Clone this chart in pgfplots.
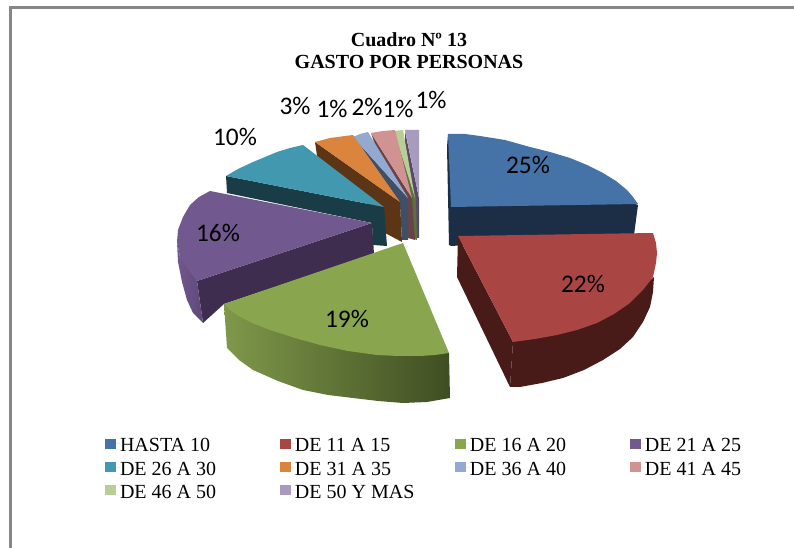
\documentclass[border=0pt]{standalone}
\usepackage{fontspec}
\setmainfont{Liberation Serif}
\newfontfamily\calib{Carlito}
\usepackage{pgfplots}
\pgfplotsset{compat=1.18}
\definecolor{c1}{HTML}{4572A7}\definecolor{s1}{HTML}{1B2E46}
\definecolor{c2}{HTML}{A94543}\definecolor{s2}{HTML}{481B19}
\definecolor{c3}{HTML}{89A54E}\definecolor{s3}{HTML}{3F4E22}\definecolor{s3l}{HTML}{7F984A}
\definecolor{c4}{HTML}{71588F}\definecolor{s4}{HTML}{3E2D4E}\definecolor{s4o}{HTML}{5E4878}
\definecolor{c5}{HTML}{4198AF}\definecolor{s5}{HTML}{193C47}
\definecolor{c6}{HTML}{DB843D}\definecolor{s6}{HTML}{5B3516}
\definecolor{c7}{HTML}{93A9CF}\definecolor{s7}{HTML}{3E4F68}
\definecolor{c8}{HTML}{D19392}\definecolor{s8}{HTML}{6A4445}
\definecolor{c9}{HTML}{B9CD96}\definecolor{s9}{HTML}{5A7040}
\definecolor{c10}{HTML}{A99BBD}\definecolor{s10}{HTML}{564A68}
\newcommand\LE[1]{\makebox[120pt][l]{\rule[-4.2pt]{0pt}{17.6pt}#1}}
\newcommand\LF[1]{\makebox[90pt][l]{\rule[-4.2pt]{0pt}{17.6pt}#1}}
\begin{document}
\begin{tikzpicture}
\begin{axis}[
  scale only axis, width=595.5pt, height=411pt,
  xmin=0, xmax=794, ymin=0, ymax=548, y dir=reverse,
  hide axis, clip=true,
  legend columns=4,
  legend cell align=left,
  legend style={draw=none, fill=none, at={(axis cs:105,434)}, anchor=north west,
    inner sep=0pt, outer sep=0pt,
    font=\fontsize{15}{15}\selectfont,
    nodes={inner sep=0pt, outer sep=0pt},
    /tikz/column sep=0pt, /tikz/row sep=2.6pt},
  legend image code/.code={\path[#1] (0pt,-3.6pt) rectangle (8.2pt,4pt); \path (0pt,0pt) -- (11.25pt,0pt);},
]
% full extent of the picture
\addplot[forget plot, draw=none] coordinates {(0,0)(794,548)};
% frame
\addplot[forget plot, draw=black!47, line width=2.2pt] coordinates {(794,7.5)(10.5,7.5)(10.5,548)};

% DE 50 Y MAS
\addplot[forget plot, fill=s10, draw=none] coordinates {(405,131)(405,143)(414,200)(415,238)(419,238)(419,198)} -- cycle;
\addplot[forget plot, fill=c10, draw=none] coordinates {(405,130)(419,130)(419,198)} -- cycle;
% DE 46 A 50
\addplot[forget plot, fill=s9, draw=none] coordinates {(394,131)(394,143)(410,198)(411,238)(417,240)(416,198)} -- cycle;
\addplot[forget plot, fill=c9, draw=none] coordinates {(394,131)(403,130)(415,198)} -- cycle;
% DE 41 A 45
\addplot[forget plot, fill=s8, draw=none] coordinates {(371,133)(375,145)(408,198)(408,238)(415,240)(412,198)} -- cycle;
\addplot[forget plot, fill=c8, draw=none] coordinates {(371,133)(383,131)(395,130)(412,198)} -- cycle;
% DE 36 A 40
\addplot[forget plot, fill=s7, draw=none] coordinates {(353,137)(357,146)(400,205)(402,240)(408,240)(408,198)} -- cycle;
\addplot[forget plot, fill=c7, draw=none] coordinates {(353,137)(360,134)(368,132)(408,198)} -- cycle;
% DE 31 A 35
\addplot[forget plot, fill=s6, draw=none] coordinates {(315,142)(317,156)(384,220)(385,233)(402,242)(400,202)} -- cycle;
\addplot[forget plot, fill=c6, draw=none] coordinates {(315,142)(330,138)(345,136)(353,135)(400,202)} -- cycle;
% DE 26 A 30
\addplot[forget plot, fill=s5, draw=none] coordinates {(226,176)(227,193)(372,223)(373,245)(387,246)(384,207)} -- cycle;
\addplot[forget plot, fill=c5, draw=none] coordinates {(226,176)(238,169)(253,162)(265,157)(277,152)(290,148)(303,145)(384,207)} -- cycle;
% DE 21 A 25
\addplot[forget plot, fill=s4, draw=none] coordinates {(197,281)(372,223)(374,254)(224,304)(203,323)} -- cycle;
\addplot[forget plot, shade, left color=c4, right color=s4o, draw=none] coordinates {(177,242)(178,262)(182,282)(187,300)(193,313)(203,323)(197,281)(186,264)(180,257)} -- cycle;
\addplot[forget plot, fill=c4, draw=none] coordinates {(210,191)(199,197)(190,205)(183,217)(178,230)(177,242)(180,257)(187,268)(197,281)(372,223)} -- cycle;
% HASTA 10
\addplot[forget plot, fill=s1, draw=none] coordinates {(448,134)(447,147)(449,245)(451,246)(634,235)(638,205)} -- cycle;
\addplot[forget plot, fill=c1, draw=none] coordinates {(448,134)(465,134)(480,136)(505,140)(530,147)(550,152)(570,158)(587,165)(603,173)(616,181)(627,190)(633,197)(638,204)(451,207)} -- cycle;
% DE 16 A 20
\addplot[forget plot, shade, left color=s3l, right color=s3, draw=none] coordinates {(224,304)(227,348)(239,360)(253,370)(278,381)(303,390)(328,395)(353,398)(378,401)(403,403)(427,402)(450,398)(449,353)} -- cycle;
\addplot[forget plot, fill=c3, draw=none] coordinates {(403,243)(449,353)(435,355)(420,356)(398,356)(377,355)(348,351)(320,345)(295,338)(270,330)(252,323)(237,315)(229,309)(224,304)} -- cycle;
% DE 11 A 15
\addplot[forget plot, fill=s2, draw=none] coordinates {(458,236)(457,277)(510,387)(513,342)} -- cycle;
\addplot[forget plot, fill=s2, draw=none] coordinates {(513,342)(510,387)(520,387)(542,383)(563,378)(584,370)(603,360)(620,349)(633,337)(643,322)(650,307)(653,292)(654,277)(645,285)} -- cycle;
\addplot[forget plot, fill=c2, draw=none] coordinates {(458,236)(653,233)(656,243)(657,253)(656,263)(653,277)(643,290)(630,303)(614,314)(597,323)(577,330)(557,335)(535,339)(513,342)} -- cycle;

% labels
\node[font=\bfseries\fontsize{15}{16.5}\selectfont, align=center] at (axis cs:409,51) {Cuadro Nº 13\\GASTO POR PERSONAS};
\node[font=\calib\fontsize{19}{20}\selectfont] at (axis cs:528,165) {25\%};
\node[font=\calib\fontsize{19}{20}\selectfont] at (axis cs:583,284) {22\%};
\node[font=\calib\fontsize{19}{20}\selectfont] at (axis cs:347,319) {19\%};
\node[font=\calib\fontsize{19}{20}\selectfont] at (axis cs:218,233) {16\%};
\node[font=\calib\fontsize{19}{20}\selectfont] at (axis cs:235,137) {10\%};
\node[font=\calib\fontsize{19}{20}\selectfont] at (axis cs:295,106) {3\%};
\node[font=\calib\fontsize{19}{20}\selectfont] at (axis cs:332,109) {1\%};
\node[font=\calib\fontsize{19}{20}\selectfont] at (axis cs:367,107) {2\%};
\node[font=\calib\fontsize{19}{20}\selectfont] at (axis cs:398,109) {1\%};
\node[font=\calib\fontsize{19}{20}\selectfont] at (axis cs:431,100) {1\%};

% legend
\addlegendimage{fill=c1,draw=none}\addlegendentry{\LE{HASTA 10}}
\addlegendimage{fill=c2,draw=none}\addlegendentry{\LE{DE 11 A 15}}
\addlegendimage{fill=c3,draw=none}\addlegendentry{\LE{DE 16 A 20}}
\addlegendimage{fill=c4,draw=none}\addlegendentry{\LF{DE 21 A 25}}
\addlegendimage{fill=c5,draw=none}\addlegendentry{\LE{DE 26 A 30}}
\addlegendimage{fill=c6,draw=none}\addlegendentry{\LE{DE 31 A 35}}
\addlegendimage{fill=c7,draw=none}\addlegendentry{\LE{DE 36 A 40}}
\addlegendimage{fill=c8,draw=none}\addlegendentry{\LF{DE 41 A 45}}
\addlegendimage{fill=c9,draw=none}\addlegendentry{\LE{DE 46 A 50}}
\addlegendimage{fill=c10,draw=none}\addlegendentry{\LE{DE 50 Y MAS}}
\end{axis}
\end{tikzpicture}
\end{document}
